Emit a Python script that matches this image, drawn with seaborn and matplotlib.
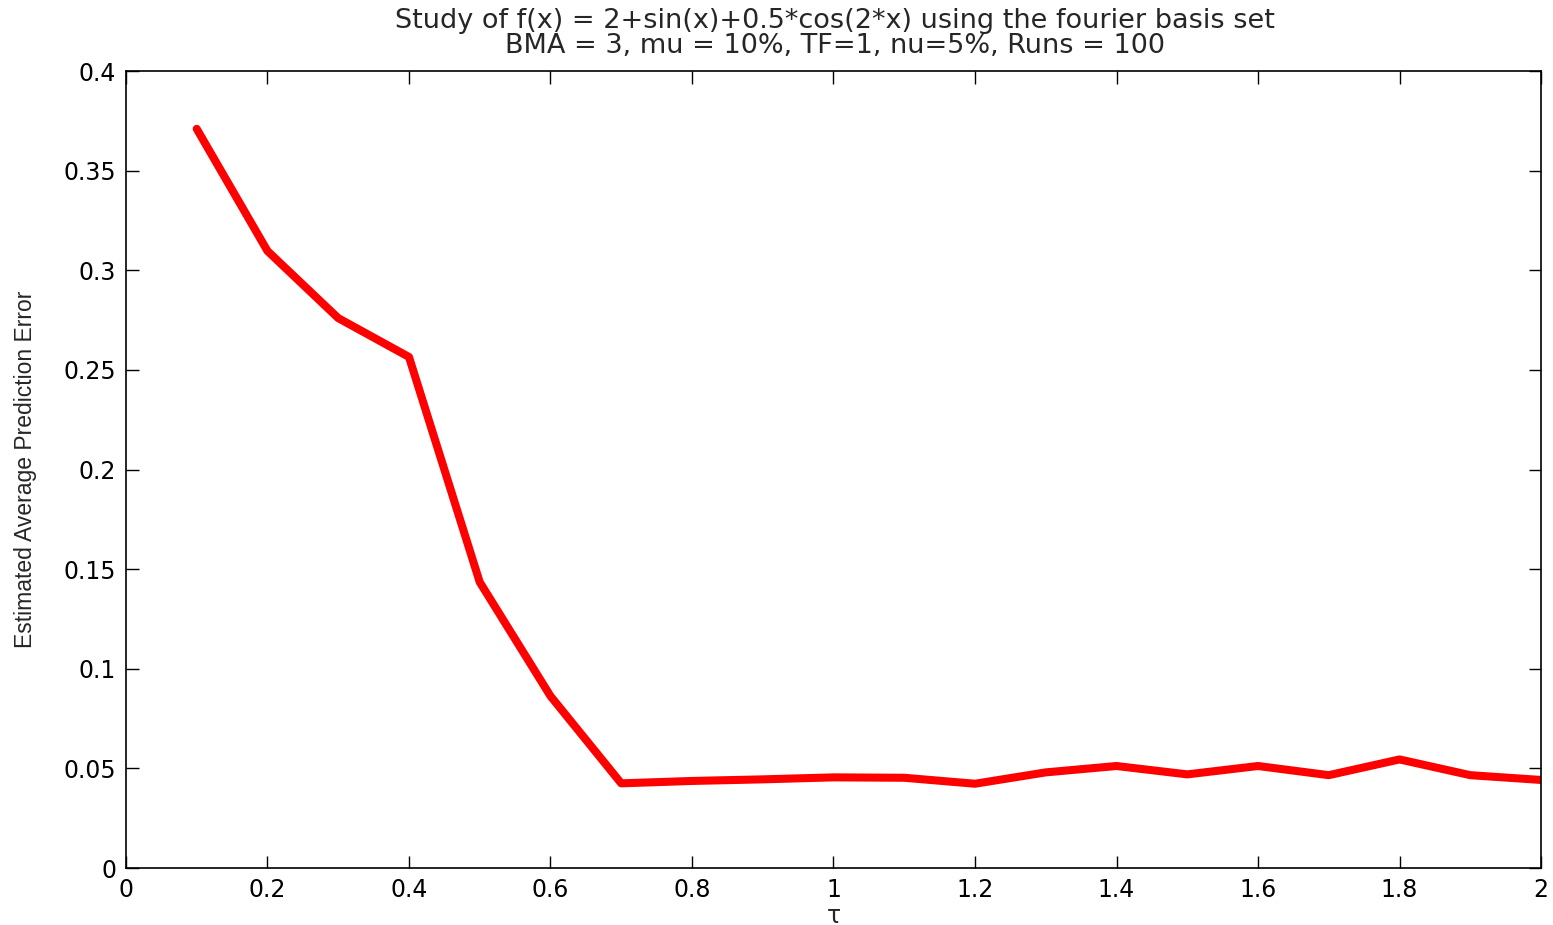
import numpy as np
import pandas as pd
import matplotlib
matplotlib.use("Agg")
import matplotlib.pyplot as plt
import seaborn as sns

# Data
tau = [0.1, 0.2, 0.3, 0.4, 0.5, 0.6, 0.7, 0.8, 0.9, 1.0,
       1.1, 1.2, 1.3, 1.4, 1.5, 1.6, 1.7, 1.8, 1.9, 2.0]
error = [0.371, 0.3097, 0.276, 0.2565, 0.1435, 0.0863, 0.0425, 0.0437, 0.0445, 0.0455,
         0.0453, 0.0423, 0.0480, 0.0512, 0.0470, 0.0512, 0.0466, 0.0545, 0.0466, 0.0442]
xticks = [0, 0.2, 0.4, 0.6, 0.8, 1, 1.2, 1.4, 1.6, 1.8, 2]
yticks = [0, 0.05, 0.1, 0.15, 0.2, 0.25, 0.3, 0.35, 0.4]

df = pd.DataFrame({"tau": tau, "error": error})

sns.set_style("ticks")
plt.rcParams["font.family"] = ["DejaVu Sans"]

fig = plt.figure(figsize=(15.53, 9.25), dpi=100)
ax = fig.add_axes([0.0811, 0.0616, 0.9112, 0.8616])

sns.lineplot(data=df, x="tau", y="error", color="red", linewidth=5.8, ax=ax)

ax.set_xlim(0, 2)
ax.set_ylim(0, 0.4)
ax.set_xticks(xticks)
ax.set_xticklabels([f"{t:g}" for t in xticks])
ax.set_yticks(yticks)
ax.set_yticklabels([f"{t:g}" for t in yticks])
ax.tick_params(direction="in", length=9, width=1, top=True, right=True,
               labelsize=17, pad=7, colors="black")
for s in ax.spines.values():
    s.set_visible(True)
    s.set_linewidth(1.2)
    s.set_color("black")

ax.set_xlabel("τ", fontsize=17)
ax.xaxis.set_label_coords(0.5, -0.045)
ax.set_ylabel("Estimated Average Prediction Error", fontsize=16.5,
              family=["Liberation Sans Narrow", "Liberation Sans", "DejaVu Sans"])
ax.yaxis.set_label_coords(-0.063, 0.5)

fig.text(0.5378, 0.977, "Study of f(x) = 2+sin(x)+0.5*cos(2*x) using the fourier basis set",
         ha="center", va="center", fontsize=19.5)
fig.text(0.5378, 0.950, "BMA = 3, mu = 10%, TF=1, nu=5%, Runs = 100",
         ha="center", va="center", fontsize=19.5)

fig.savefig("out.png", dpi=100)
